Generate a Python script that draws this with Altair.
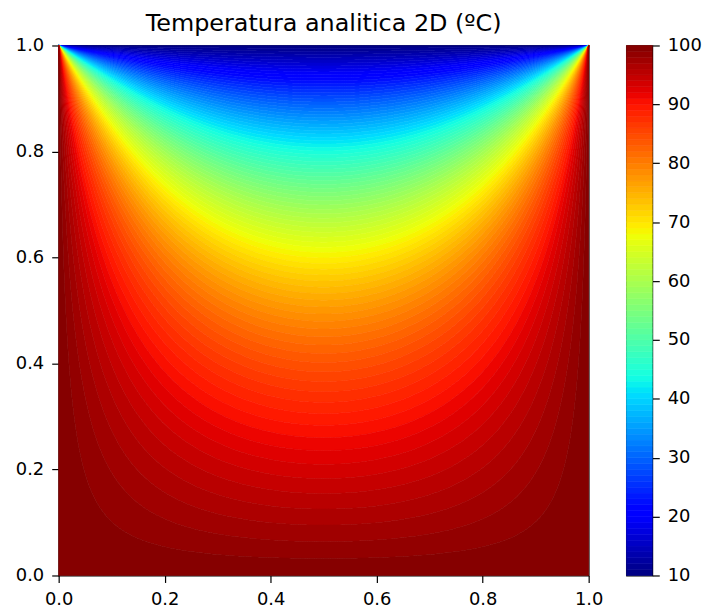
import numpy as np
import pandas as pd
import altair as alt

# ---- chart data -------------------------------------------------------
title_text = "Temperatura analitica 2D (ºC)"
T_sides = 100.0          # left, right and bottom edges (ºC)
T_top = 10.0             # top edge (ºC)
axis_ticks = [0.0, 0.2, 0.4, 0.6, 0.8, 1.0]
cbar_ticks = [10, 20, 30, 40, 50, 60, 70, 80, 90, 100]
n_bands = 90             # filled contour bands (1 ºC each)
n_terms = 1000           # odd Fourier terms of the analytic solution

# ---- jet colormap ------------------------------------------------------
_r = ([0, 0.35, 0.66, 0.89, 1], [0, 0, 1, 1, 0.5])
_g = ([0, 0.125, 0.375, 0.64, 0.91, 1], [0, 0, 1, 1, 0, 0])
_b = ([0, 0.11, 0.34, 0.65, 1], [0.5, 1, 1, 0, 0])


def jet(t):
    r = np.interp(t, *_r)
    g = np.interp(t, *_g)
    b = np.interp(t, *_b)
    return "#%02x%02x%02x" % (int(round(r * 255)), int(round(g * 255)), int(round(b * 255)))


levels = np.linspace(T_top, T_sides, n_bands + 1)
mids = 0.5 * (levels[:-1] + levels[1:])
band_colors = [jet((m - levels[0]) / (levels[-1] - levels[0])) for m in mids]

# ---- analytic temperature field (Laplace, unit square) -----------------
t = np.linspace(0, 1, 361)
xs = 0.5 - 0.5 * np.cos(np.pi * t)              # denser near the corners
ys = np.unique(np.concatenate([np.linspace(0, 1, 3001), 1 - np.logspace(-7, -2, 400)]))
ns = np.arange(1, 2 * n_terms, 2)
S = (4 / (ns[:, None] * np.pi)) * np.sin(ns[:, None] * np.pi * xs[None, :])
Yg = ys[None, :]
R = np.exp(ns[:, None] * np.pi * (Yg - 1)) * (1 - np.exp(-2 * ns[:, None] * np.pi * Yg)) \
    / (1 - np.exp(-2 * ns[:, None] * np.pi))
phi = np.clip(S.T @ R, 0, 1)                      # shape (nx, ny)
phi[:, -1] = 1.0                                  # top edge
T = T_sides + (T_top - T_sides) * phi
T = np.minimum.accumulate(T, axis=1)              # decreasing with y

# height of each level curve at every x
ylev = np.zeros((len(levels), len(xs)))
for i in range(len(xs)):
    col = T[i]
    if i == 0 or i == len(xs) - 1:
        ylev[:, i] = 1.0
        continue
    ylev[:, i] = np.interp(levels, col[::-1], ys[::-1])
ylev[0, :] = 1.0
ylev[-1, :] = 0.0

rows = []
for k in range(n_bands):
    for i in range(len(xs)):
        rows.append((k, round(xs[i], 6), round(ylev[k + 1, i], 6), round(ylev[k, i], 6), band_colors[k]))
df = pd.DataFrame(rows, columns=["band", "x", "ylo", "yhi", "c"])

cb = pd.DataFrame({
    "lo": levels[:-1],
    "hi": levels[1:],
    "c": band_colors,
    "a": 0.0,
    "b": 1.0,
})

FONT = "DejaVu Sans"

heat = alt.Chart(df).mark_area(strokeWidth=0.6, interpolate="linear", orient="vertical").encode(
    x=alt.X("x:Q", scale=alt.Scale(domain=[0, 1], nice=False, zero=False),
            axis=alt.Axis(values=axis_ticks, format=".1f", title=None)),
    y=alt.Y("ylo:Q", scale=alt.Scale(domain=[0, 1], nice=False, zero=False),
            axis=alt.Axis(values=axis_ticks, format=".1f", title=None)),
    y2="yhi:Q",
    color=alt.Color("c:N", scale=None),
    stroke=alt.Stroke("c:N", scale=None),
    detail="band:O",
).properties(
    width=533, height=533,
    title=alt.TitleParams(title_text, font=FONT, fontSize=24, fontWeight="normal",
                          color="black", anchor="middle", offset=1),
)

cbar = alt.Chart(cb).mark_rect(strokeWidth=0.6).encode(
    x=alt.X("a:Q", scale=alt.Scale(domain=[0, 1], nice=False, zero=False), axis=None),
    x2="b:Q",
    y=alt.Y("lo:Q", scale=alt.Scale(domain=[T_top, T_sides], nice=False, zero=False),
            axis=alt.Axis(values=cbar_ticks, format="d", title=None, orient="right")),
    y2="hi:Q",
    color=alt.Color("c:N", scale=None),
    stroke=alt.Stroke("c:N", scale=None),
).properties(width=26, height=533)

chart = alt.hconcat(heat, cbar, spacing=22).configure_view(
    stroke="black", strokeWidth=1.2
).configure_axis(
    grid=False, domain=False, ticks=True, tickSize=7, tickWidth=1.2, tickColor="black",
    labelFont=FONT, labelFontSize=18, labelColor="black", labelPadding=8,
    labelFlush=False, labelOverlap=False,
).properties(padding={"left": 14, "top": 9, "right": 5, "bottom": 5}, background="white")

chart.save("out.html", embed_options={"renderer": "svg", "actions": False})
